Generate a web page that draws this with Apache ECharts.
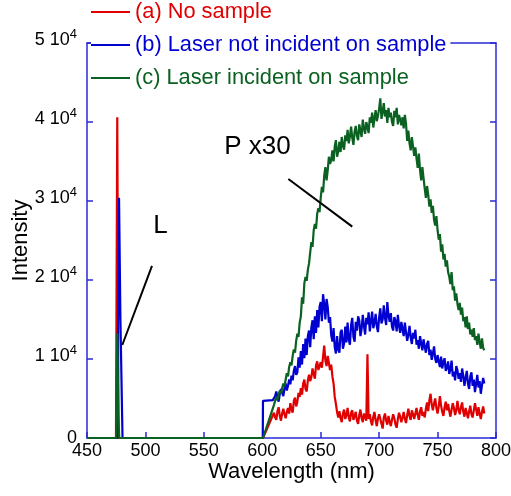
<!DOCTYPE html>
<html>
<head>
<meta charset="utf-8">
<script src="https://cdn.jsdelivr.net/npm/echarts@6/dist/echarts.min.js"></script>
<style>
  html, body { margin: 0; padding: 0; background: #fff; }
  #chart { width: 511px; height: 496px; }
</style>
</head>
<body>
<div id="chart"></div>
<script>
// Emission spectra, 450–800 nm. Spectral region above 600 nm is scaled x30.
const seriesNames = ['(a) No sample', '(b) Laser not incident on sample', '(c) Laser incident on sample'];

// Laser line and flat baseline below 610 nm (wavelength, intensity)
const noSampleHeadNm = [450, 474.8, 475.9, 477.0, 600.6];
const noSampleHead   = [0, 0, 40600, 0, 0];
const laserOffHeadNm = [450, 475.9, 477.4, 478.6, 480.4, 600.4, 600.6, 609];
const laserOffHead   = [0, 0, 30400, 15000, 0, 0, 4700, 4800];
const laserOnHeadNm  = [450, 474.9, 475.9, 476.8, 477.6, 600.6];
const laserOnHead    = [0, 0, 13300, 3000, 0, 0];

// Spectrum sampling grid (nm), 1 nm steps
const wavelengths = [
  610, 611, 612, 613, 614, 615, 616, 617, 618, 619,
  620, 621, 622, 623, 624, 625, 626, 627, 628, 629,
  630, 631, 632, 633, 634, 635, 636, 637, 638, 639,
  640, 641, 642, 643, 644, 645, 646, 647, 648, 649,
  650, 651, 652, 653, 654, 655, 656, 657, 658, 659,
  660, 661, 662, 663, 664, 665, 666, 667, 668, 669,
  670, 671, 672, 673, 674, 675, 676, 677, 678, 679,
  680, 681, 682, 683, 684, 685, 686, 687, 688, 689,
  690, 691, 692, 693, 694, 695, 696, 697, 698, 699,
  700, 701, 702, 703, 704, 705, 706, 707, 708, 709,
  710, 711, 712, 713, 714, 715, 716, 717, 718, 719,
  720, 721, 722, 723, 724, 725, 726, 727, 728, 729,
  730, 731, 732, 733, 734, 735, 736, 737, 738, 739,
  740, 741, 742, 743, 744, 745, 746, 747, 748, 749,
  750, 751, 752, 753, 754, 755, 756, 757, 758, 759,
  760, 761, 762, 763, 764, 765, 766, 767, 768, 769,
  770, 771, 772, 773, 774, 775, 776, 777, 778, 779,
  780, 781, 782, 783, 784, 785, 786, 787, 788, 789,
  790
];

const noSample = [
  3200, 2600, 2300, 3400, 3900, 2800, 2200, 3100, 3700, 3000,
  2500, 3300, 3800, 3100, 4400, 3600, 3200, 4700, 5100, 4000,
  4600, 5700, 5200, 6300, 5500, 6900, 7400, 6200, 5900, 7300,
  8000, 7200, 7700, 8800, 8100, 7500, 9200, 9700, 8600, 9100,
  9600, 8900, 10300, 11700, 9800, 9100, 10400, 9500, 8600, 9300,
  7800, 6900, 5200, 4300, 3300, 2600, 3400, 2500, 2000, 3100,
  3600, 2400, 2900, 3800, 2600, 2100, 3200, 3500, 2300, 2800,
  3300, 2200, 1800, 2900, 3600, 2500, 2000, 3100, 2600, 2200,
  10600, 2400, 3000, 2100, 1600, 2700, 3300, 2200, 1500, 2500,
  3000, 2400, 1800, 1200, 2600, 3100, 2200, 1700, 2800, 2100,
  1500, 2300, 3000, 2500, 1700, 1300, 2400, 3200, 2700, 2000,
  2600, 3300, 2400, 1900, 2900, 3700, 2800, 2300, 3500, 3000,
  2400, 3100, 3800, 2900, 2300, 3400, 3900, 2800, 3300, 2600,
  3700, 4500, 3400, 4800, 5600, 4200, 3500, 4400, 5000, 3800,
  3100, 4000, 5300, 4100, 3300, 2800, 3900, 4600, 3500, 4300,
  3400, 2700, 3600, 4400, 3800, 2900, 3500, 4700, 3600, 3000,
  3900, 4500, 3300, 2700, 3800, 3200, 2500, 3400, 4100, 3000,
  2600, 3500, 4400, 3600, 2800, 3900, 3100, 2400, 3300, 4000,
  3100
];

const laserOff = [
  4800, 5300, 5900, 5100, 4600, 5600, 6200, 5700, 5300, 6300,
  6900, 6000, 6600, 7400, 6800, 7900, 7300, 8500, 9100, 8000,
  8300, 10200, 8900, 11000, 9300, 11900, 10100, 12600, 10500, 12900,
  13600, 11500, 14000, 14900, 12500, 15400, 13300, 16200, 14000, 16600,
  17200, 14800, 18200, 16900, 15000, 17600, 16600, 14600, 15300, 13000,
  12200, 13900, 11500, 10700, 12900, 11200, 10800, 13400, 13700, 11300,
  12000, 14100, 12100, 14600, 12500, 11800, 14300, 15200, 12800, 12200,
  14700, 13600, 15400, 14900, 12900, 13800, 15600, 14200, 13100, 15200,
  14400, 15900, 13500, 14800, 16000, 13900, 14600, 15700, 14100, 13400,
  15300, 16400, 14500, 15000, 16800, 15200, 14300, 17200, 15500, 14700,
  15800, 14100, 13600, 15300, 14800, 13500, 15600, 14200, 13300, 14700,
  13800, 12900, 14600, 13400, 12300, 13100, 14200, 12700, 11900, 13300,
  12600, 13700, 11800, 12400, 11300, 12900, 12000, 11100, 12500, 11600,
  10800, 11900, 12300, 10500, 11200, 9900, 10700, 11600, 10000, 9500,
  10500, 9700, 9000, 10300, 8800, 9600, 10100, 8500, 8900, 9700,
  8100, 8700, 9800, 7800, 8400, 7300, 9100, 8600, 7500, 8200,
  7100, 8800, 7900, 6600, 7600, 8500, 6900, 6200, 7800, 8300,
  6600, 7400, 5800, 6900, 8000, 6400, 7200, 5600, 6700, 7600,
  6900
];

const laserOn = [
  4200, 4700, 5200, 4800, 5500, 6000, 5600, 6300, 6900, 6500,
  7400, 8200, 7800, 9000, 9600, 9200, 10400, 11200, 10800, 12300,
  13200, 12800, 14600, 15400, 17800, 17000, 19600, 20400, 19900, 21300,
  22100, 23500, 24800, 24200, 26300, 27100, 26500, 28400, 29100, 28600,
  30400, 31800, 31100, 33200, 34300, 32600, 33900, 35600, 34700, 35200,
  36400, 35000, 36900, 37700, 35600, 36300, 37500, 36200, 38100, 37000,
  36500, 38300, 37600, 39000, 37300, 38200, 39400, 38000, 37100, 38800,
  39500, 38200, 37700, 39700, 38900, 38100, 40300, 39200, 38500, 40000,
  39400, 38600, 40600, 39900, 41200, 39300, 40500, 41500, 40100, 40800,
  41700, 43000, 40400, 41300, 42400, 40700, 41500, 39900, 41800, 40600,
  41200, 40000, 39500, 41400, 40600, 41800, 39700, 40900, 40300, 39600,
  40600, 39200, 40900, 39800, 37600, 38900, 37300, 36400, 38100, 36900,
  35700, 36800, 35400, 34200, 36000, 33900, 32600, 34300, 32900, 31600,
  30400, 31900, 30800, 29300, 30200, 28500, 29400, 27600, 26900, 28100,
  26300, 25100, 25800, 23600, 24500, 22600, 23300, 21700, 22500, 21000,
  20400, 19500, 21000, 18700, 19200, 17400, 18300, 17000, 16200, 17100,
  15600, 16500, 14800, 15300, 14000, 15400, 13800, 14600, 13100, 13700,
  12800, 13900, 12400, 12900, 11800, 13200, 12100, 11300, 12600, 11400,
  11100
];

const yTickValues = [0, 10000, 20000, 30000, 40000, 50000];

const FONT = 'Liberation Sans, Arial, sans-serif';
const RED = '#e00000';
const BLUE = '#0000d0';
const GREEN = '#0b6121';
const AXIS = '#2a2ad8';

function pairs(headNm, head, values) {
  const out = headNm.map((x, i) => [x, head[i]]);
  wavelengths.forEach((x, i) => out.push([x, values[i]]));
  return out;
}

const chart = echarts.init(document.getElementById('chart'), null, { renderer: 'canvas' });

const axisLine = { show: true, onZero: false, lineStyle: { color: AXIS, width: 1.5 } };
const axisTick = { show: true, inside: true, length: 6, lineStyle: { color: AXIS, width: 1.5 } };

const option = {
  animation: false,
  backgroundColor: '#fff',
  grid: { left: 87, right: 15, top: 43, bottom: 58, outerBoundsMode: 'none', containLabel: false },
  legend: {
    orient: 'vertical',
    left: 91,
    top: 0,
    icon: 'rect',
    itemWidth: 39,
    itemHeight: 2,
    itemGap: 11,
    padding: [1, 4, 4, 0],
    backgroundColor: '#fff',
    textStyle: { fontSize: 21.8, fontFamily: FONT },
    data: [
      { name: seriesNames[0], textStyle: { color: RED } },
      { name: seriesNames[1], textStyle: { color: BLUE } },
      { name: seriesNames[2], textStyle: { color: GREEN } }
    ]
  },
  xAxis: [
    {
      type: 'value', min: 450, max: 800, interval: 50,
      axisLine, axisTick,
      splitLine: { show: false },
      axisLabel: { color: '#000', fontSize: 18, fontFamily: FONT, margin: 4, showMinLabel: true, showMaxLabel: true },
      name: 'Wavelength (nm)', nameLocation: 'middle', nameGap: 23, nameMoveOverlap: false,
      nameTextStyle: { color: '#000', fontSize: 22, fontFamily: FONT }
    },
    {
      type: 'value', position: 'top', min: 450, max: 800, interval: 50,
      axisLine, axisTick: { show: false }, axisLabel: { show: false }, splitLine: { show: false }
    }
  ],
  yAxis: [
    {
      type: 'value', min: yTickValues[0], max: yTickValues[yTickValues.length - 1], interval: 10000,
      axisLine, axisTick,
      splitLine: { show: false },
      axisLabel: {
        margin: 10,
        formatter: v => v === 0 ? '{z|0}' : '{m|' + (v / 10000) + ' 10}{s|4}',
        rich: {
          z: { color: '#000', fontSize: 18, fontFamily: FONT },
          m: { color: '#000', fontSize: 18, fontFamily: FONT, padding: [0, 0, 5, 0] },
          s: { color: '#000', fontSize: 13, fontFamily: FONT, padding: [0, 0, 18, 0] }
        }
      },
      name: 'Intensity', nameLocation: 'middle', nameGap: 55, nameRotate: 90, nameMoveOverlap: false,
      nameTextStyle: { color: '#000', fontSize: 22, fontFamily: FONT }
    },
    {
      type: 'value', position: 'right', min: 0, max: 50000, interval: 10000,
      axisLine, axisTick, axisLabel: { show: false }, splitLine: { show: false }
    }
  ],
  series: [
    {
      name: seriesNames[0], type: 'line', symbol: 'none', color: RED,
      lineStyle: { color: RED, width: 2.2 },
      data: pairs(noSampleHeadNm, noSampleHead, noSample)
    },
    {
      name: seriesNames[1], type: 'line', symbol: 'none', color: BLUE,
      lineStyle: { color: BLUE, width: 2.2 },
      data: pairs(laserOffHeadNm, laserOffHead, laserOff)
    },
    {
      name: seriesNames[2], type: 'line', symbol: 'none', color: GREEN,
      lineStyle: { color: GREEN, width: 2.2 },
      data: pairs(laserOnHeadNm, laserOnHead, laserOn)
    }
  ]
};

chart.setOption(option);

// Annotations: laser line "L" and photoluminescence band "P x30"
const px = (x, y) => chart.convertToPixel({ xAxisIndex: 0, yAxisIndex: 0 }, [x, y]);
const lA = px(505.6, 21780), lB = px(480.2, 11770);
const pA = px(622.3, 32790), pB = px(677.0, 26750);
const lT = px(512.9, 26900), pT = px(595.9, 36840);
chart.setOption({
  graphic: [
    { type: 'line', shape: { x1: lA[0], y1: lA[1], x2: lB[0], y2: lB[1] }, style: { stroke: '#000', lineWidth: 2 }, z: 10 },
    { type: 'line', shape: { x1: pA[0], y1: pA[1], x2: pB[0], y2: pB[1] }, style: { stroke: '#000', lineWidth: 2 }, z: 10 },
    { type: 'text', x: lT[0], y: lT[1], style: { text: 'L', fill: '#000', font: '26px ' + FONT, textAlign: 'center', textVerticalAlign: 'middle' }, z: 10 },
    { type: 'text', x: pT[0], y: pT[1], style: { text: 'P x30', fill: '#000', font: '26px ' + FONT, textAlign: 'center', textVerticalAlign: 'middle' }, z: 10 }
  ]
});
</script>
</body>
</html>
